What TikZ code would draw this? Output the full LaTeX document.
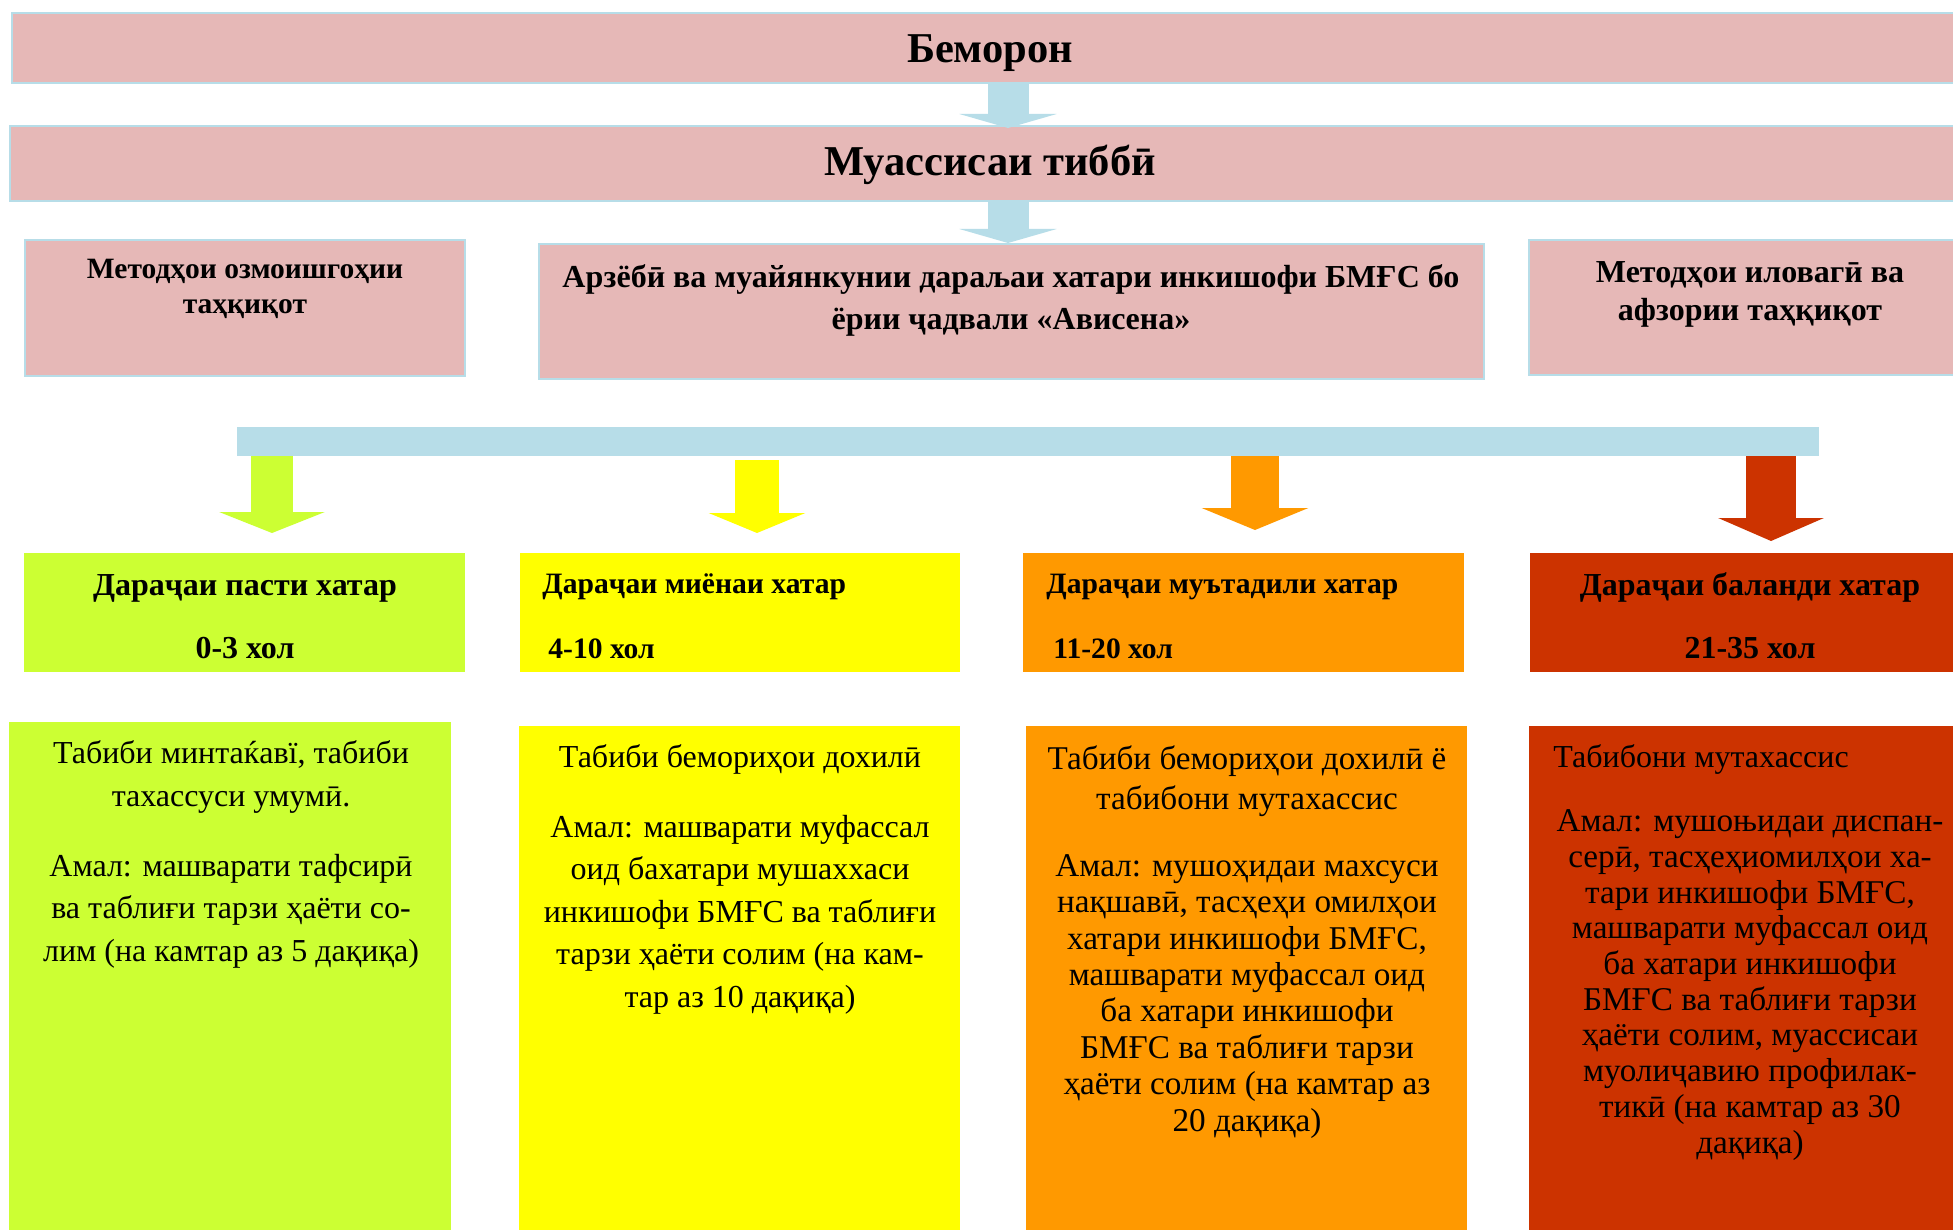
\documentclass[tikz,border=0pt]{standalone}
\usepackage{fontspec}
\setmainfont{Liberation Serif}
\usetikzlibrary{arrows.meta,fit}
\definecolor{pinkc}{HTML}{E6B8B7}
\definecolor{bluec}{HTML}{B7DDE8}
\definecolor{lvgreen}{HTML}{CCFF33}
\definecolor{lvyellow}{HTML}{FFFF00}
\definecolor{lvorange}{HTML}{FF9900}
\definecolor{lvred}{HTML}{CC3300}
\tikzset{
  box/.style={inner sep=0pt, outer sep=0pt},
  pinkbox/.style={box, fill=pinkc, draw=bluec, line width=1pt},
  hdr/.style={font=\fontsize{21.25}{24}\selectfont\bfseries, anchor=base, inner sep=0pt},
  pinkt/.style={font=\fontsize{16}{18.5}\selectfont\bfseries, align=center, anchor=base, inner sep=0pt},
  lvt/.style={font=\fontsize{16}{31.5}\selectfont\bfseries, inner sep=0pt},
  lvts/.style={font=\fontsize{14.8}{32.5}\selectfont\bfseries, inner sep=0pt},
  bodyt/.style={font=\fontsize{16}{21.25}\selectfont, align=center, anchor=base, inner sep=0pt},
  bodyd/.style={bodyt, font=\fontsize{16.6}{18.2}\selectfont},
  barr/.style n args={4}{draw=#1, line width=#2, -{Triangle[width=#3,length=#4]}}
}
\begin{document}
\begin{tikzpicture}[x=0.5pt,y=-0.5pt]
\useasboundingbox (0,0) rectangle (1953,1230);
\fill[white] (0,0) rectangle (1953,1230);
% top bars
\node[pinkbox, fit={(12,13) (1960,83)}] (bem) {};
\node[hdr] (bemT) at (990,63) {Беморон};
\node[pinkbox, fit={(10,126) (1960,201)}] (mua) {};
\node[hdr] (muaT) at (990,176) {Муассисаи тиббӣ};
% arrows between
\coordinate (a1s) at (1008,83);
\coordinate (a1t) at (1008,128);
\coordinate (a2s) at (1008,201);
\coordinate (a2t) at (1008,243);
% second row
\node[pinkbox, fit={(25,240) (465,376)}] (lab) {};
\node[pinkbox, fit={(539,244) (1484,379)}] (avi) {};
\node[pinkbox, fit={(1529,240) (1960,375)}] (add) {};
\draw[barr={bluec}{20.5pt}{48.5pt}{7pt}] (a1s) -- (a1t);
\draw[barr={bluec}{20.5pt}{48.5pt}{7pt}] (a2s) -- (a2t);
\node[pinkt, font=\fontsize{14.75}{17.5}\selectfont\bfseries] (labT) at (245,314) {Методҳои озмоишгоҳии\\таҳқиқот};
\node[pinkt, font=\fontsize{16}{21}\selectfont\bfseries] (aviT) at (1011,329) {Арзёбӣ ва муайянкунии дараљаи хатари инкишофи БМҒС бо\\ёрии ҷадвали «Авиcена»};
\node[pinkt] (addT) at (1750,320) {Методҳои иловагӣ ва\\афзории таҳқиқот};
% distribution bar
\node[box, fill=bluec, fit={(237,427) (1819,456)}] (bar) {};
\coordinate (gS) at (272,456);  \coordinate (gT) at (272,533);
\coordinate (yS) at (757,460);  \coordinate (yT) at (757,533);
\coordinate (oS) at (1255,456); \coordinate (oT) at (1255,530);
\coordinate (rS) at (1771,456); \coordinate (rT) at (1771,541);
\draw[barr={lvgreen}{21pt}{52.5pt}{10.5pt}] (gS) -- (gT);
\draw[barr={lvyellow}{22pt}{48pt}{10pt}] (yS) -- (yT);
\draw[barr={lvorange}{24pt}{53pt}{11pt}] (oS) -- (oT);
\draw[barr={lvred}{25pt}{52.5pt}{11.5pt}] (rS) -- (rT);
% level boxes
\node[box, fill=lvgreen, fit={(24,553) (465,672)}] (lg) {};
\node[box, fill=lvyellow, fit={(520,553) (960,672)}] (ly) {};
\node[box, fill=lvorange, fit={(1023,553) (1464,672)}] (lo) {};
\node[box, fill=lvred, fit={(1530,553) (1960,672)}] (lr) {};
\node[lvt, align=center, anchor=base] (lgT) at (245,658) {Дараҷаи пасти хатар\\0-3 хол};
\node[lvts, align=left, anchor=base west] (lyT) at (542,658) {Дараҷаи миёнаи хатар\\\hspace*{3pt}4-10 хол};
\node[lvts, align=left, anchor=base west] (loT) at (1046,658) {Дараҷаи муътадили хатар\\\hspace*{3.5pt}11-20 хол};
\node[lvt, align=center, anchor=base] (lrT) at (1750,658) {Дараҷаи баланди хатар\\21-35 хол};
% bottom boxes
\node[box, fill=lvgreen, fit={(9,722) (451,1235)}] (bg) {};
\node[box, fill=lvyellow, fit={(519,726) (960,1235)}] (by) {};
\node[box, fill=lvorange, fit={(1026,726) (1467,1235)}] (bo) {};
\node[box, fill=lvred, fit={(1529,726) (1960,1235)}] (br) {};
\node[bodyt] (bgT) at (231,961) {Табиби минтаќавї, табиби\\тахассуси умумӣ.\\[13.75pt]Амал: машварати тафсирӣ\\ва таблиғи тарзи ҳаёти со-\\лим (на камтар аз 5 дақиқа)};
\node[bodyt] (byT) at (740,1007) {Табиби бемориҳои дохилӣ\\[13.75pt]Амал: машварати муфассал\\оид бахатари мушаххаси\\инкишофи БМҒС ва таблиғи\\тарзи ҳаёти солим (на кам-\\тар аз 10 дақиқа)};
\node[bodyd] (boT) at (1247,1131) {Табиби бемориҳои дохилӣ ё\\[2pt]табибони мутахассис\\[15pt]Амал: мушоҳидаи махсуси\\нақшавӣ, тасҳеҳи омилҳои\\хатари инкишофи БМҒС,\\машварати муфассал оид\\ба хатари инкишофи\\БМҒС ва таблиғи тарзи\\ҳаёти солим (на камтар аз\\20 дақиқа)};
\node[bodyt, anchor=base west] (brT1) at (1553,767) {Табибони мутахассис};
\node[bodyd, font=\fontsize{16.6}{17.85}\selectfont] (brT2) at (1750,1153) {Амал: мушоњидаи диспан-\\серӣ, тасҳеҳиомилҳои ха-\\тари инкишофи БМҒС,\\машварати муфассал оид\\ба хатари инкишофи\\БМҒС ва таблиғи тарзи\\ҳаёти солим, муассисаи\\муолиҷавию профилак-\\тикӣ (на камтар аз 30\\дақиқа)};
\end{tikzpicture}
\end{document}
